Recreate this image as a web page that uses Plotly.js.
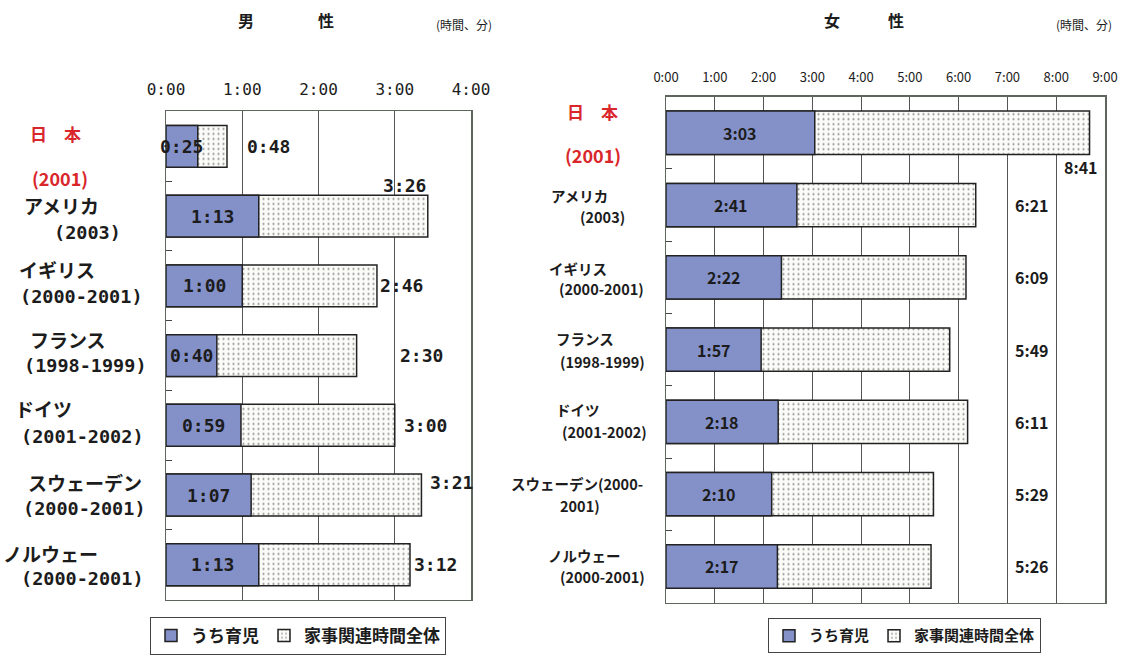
<!DOCTYPE html>
<html><head><meta charset="utf-8">
<script src="https://cdn.plot.ly/plotly-3.0.1.min.js"></script>
<style>html,body{margin:0;padding:0;background:#fff}#chart{width:1129px;height:655px}</style>
</head><body><div id="chart"></div>
<script>
// ---- data (minutes) ----
const categories = ['日本','アメリカ','イギリス','フランス','ドイツ','スウェーデン','ノルウェー'];
const maleChildcare = [25, 73, 60, 40, 59, 67, 73];
const maleTotal     = [48, 206, 166, 150, 180, 201, 192];
const femaleChildcare = [183, 161, 142, 117, 138, 130, 137];
const femaleTotal     = [521, 381, 369, 349, 371, 329, 326];
const maleTickVals = [0, 60, 120, 180, 240];
const maleTickText = ['0:00','1:00','2:00','3:00','4:00'];
const femaleTickVals = [0, 60, 120, 180, 240, 300, 360, 420, 480, 540];
const femaleTickText = ['0:00','1:00','2:00','3:00','4:00','5:00','6:00','7:00','8:00','9:00'];
const maleNameLine = ['日　本','アメリカ','イギリス','フランス','ドイツ','スウェーデン','ノルウェー'];
const maleYearLine = ['(2001)','(2003)','(2000-2001)','(1998-1999)','(2001-2002)','(2000-2001)','(2000-2001)'];
const femaleNameLine = ['日　本','アメリカ','イギリス','フランス','ドイツ','スウェーデン(2000-','ノルウェー'];
const femaleYearLine = ['(2001)','(2003)','(2000-2001)','(1998-1999)','(2001-2002)','2001)','(2000-2001)'];
const seriesNames = ['うち育児', '家事関連時間全体'];

// ---- styling helpers ----
const W = 1129, H = 655;
const px = x => x / W, py = y => 1 - y / H;
function fmt(m){ const h = Math.floor(m/60), mm = m % 60; return h + ':' + (mm < 10 ? '0' : '') + mm; }
const BLUE = '#8491c9', DOT_BG = '#fbfbf8', INK = '#1c1c1c', RED = '#d9262b', FRAME = '#5e665e';
const MONO = '"DejaVu Sans Mono", "Noto Sans CJK JP", monospace';
const CJK = '"Noto Sans CJK JP", sans-serif';

function totalTrace(vals, xa, ya, lg, w){
  return {type:'bar', orientation:'h', y:categories, x:vals, xaxis:xa, yaxis:ya, width:w,
    name:seriesNames[1], legend:lg, legendrank:2, hoverinfo:'skip',
    marker:{color:DOT_BG, pattern:{shape:'.', fgcolor:'#8a8a8a', bgcolor:DOT_BG, size:5, solidity:0.14},
      line:{color:'#222', width:1.5}}};
}
function childTrace(vals, xa, ya, lg, w){
  return {type:'bar', orientation:'h', y:categories, x:vals, xaxis:xa, yaxis:ya, width:w,
    name:seriesNames[0], legend:lg, legendrank:1, hoverinfo:'skip',
    marker:{color:BLUE, line:{color:'#222', width:1.5}}};
}
const data = [
  totalTrace(maleTotal, 'x', 'y', 'legend', 0.6),
  childTrace(maleChildcare, 'x', 'y', 'legend', 0.6),
  totalTrace(femaleTotal, 'x2', 'y2', 'legend2', 0.6),
  childTrace(femaleChildcare, 'x2', 'y2', 'legend2', 0.6)
];

const ann = [];
function pAnn(x, y, text, font){
  return {xref:'paper', yref:'paper', x:px(x), y:py(y), xanchor:'center', yanchor:'middle', text:text, showarrow:false, font:font};
}
// titles
ann.push(pAnn(286, 20, '<b>男　　　　性</b>', {family:CJK, size:16, color:INK}));
ann.push(pAnn(464, 25, '(時間、分)', {family:CJK, size:12, color:INK}));
ann.push(pAnn(864, 20, '<b>女　　　性</b>', {family:CJK, size:16, color:INK}));
ann.push(pAnn(1084, 25, '(時間、分)', {family:CJK, size:12, color:INK}));

// category labels (line positions in pixels)
const maleNamePos = [[55,135],[61,208],[57,273],[68,344],[43,414],[85,489],[51,561]];
const maleYearPos = [[60,180],[87,236],[81,301],[85,371],[82,443],[84,516],[82,587]];
const femNamePos = [[592,113],[579,198],[578,272],[585,343],[578,415],[577,490],[584,563]];
const femYearPos = [[593,157],[602,220],[601,293],[602,367],[604,438],[580,513],[602,585]];
categories.forEach((c, i) => {
  const col = i === 0 ? RED : INK;
  ann.push(pAnn(maleNamePos[i][0], maleNamePos[i][1], '<b>'+maleNameLine[i]+'</b>', {family:CJK, size:i===0?17:19, color:col}));
  ann.push(pAnn(maleYearPos[i][0], maleYearPos[i][1], '<b>'+maleYearLine[i]+'</b>', {family:i===0?CJK:MONO, size:i===0?18:18.5, color:col}));
  ann.push(pAnn(femNamePos[i][0], femNamePos[i][1], '<b>'+femaleNameLine[i]+'</b>', {family:CJK, size:i===0?17:14.5, color:col}));
  ann.push(pAnn(femYearPos[i][0], femYearPos[i][1], '<b>'+femaleYearLine[i]+'</b>', {family:CJK, size:i===0?18:14.5, color:col}));
});

// value labels
const maleTotalStyle = [[18,0,'left'],[0,31,'right'],[1,0,'left'],[41,0,'left'],[7,0,'left'],[7,13,'left'],[2,0,'left']];
categories.forEach((c, i) => {
  ann.push({xref:'x', yref:'y', x:maleChildcare[i]/2, y:c, xanchor:'center', yanchor:'middle', text:'<b>'+fmt(maleChildcare[i])+'</b>', showarrow:false, font:{family:MONO, size:18, color:INK}});
  const s = maleTotalStyle[i];
  ann.push({xref:'x', yref:'y', x:maleTotal[i], y:c, xanchor:s[2], yanchor:'middle', xshift:s[0], yshift:s[1], text:'<b>'+fmt(maleTotal[i])+'</b>', showarrow:false, font:{family:MONO, size:18, color:INK}});
  ann.push({xref:'x2', yref:'y2', x:femaleChildcare[i]/2, y:c, xanchor:'center', yanchor:'middle', text:'<b>'+fmt(femaleChildcare[i])+'</b>', showarrow:false, font:{family:CJK, size:16, color:INK}});
  if (i === 0) {
    ann.push({xref:'x2', yref:'y2', x:femaleTotal[i], y:c, xanchor:'right', yanchor:'middle', xshift:10, yshift:-34, text:'<b>'+fmt(femaleTotal[i])+'</b>', showarrow:false, font:{family:CJK, size:16, color:INK}});
  } else {
    ann.push({xref:'x2', yref:'y2', x:450, y:c, xanchor:'center', yanchor:'middle', text:'<b>'+fmt(femaleTotal[i])+'</b>', showarrow:false, font:{family:CJK, size:16, color:INK}});
  }
});

const axisCommon = {showgrid:true, gridcolor:'#555', gridwidth:1, showline:true, mirror:true, linecolor:FRAME, linewidth:1.5, zeroline:false, ticks:'', fixedrange:true};
const yCommon = {type:'category', categoryorder:'array', categoryarray:categories, range:[6.5,-0.5],
  showticklabels:false, showgrid:false, showline:true, mirror:true, linecolor:FRAME, linewidth:1.5, zeroline:false,
  ticks:'inside', tickson:'boundaries', ticklen:6, tickwidth:1, tickcolor:'#444', fixedrange:true};
const layout = {
  width:W, height:H, margin:{l:0, r:0, t:0, b:0},
  paper_bgcolor:'#ffffff', plot_bgcolor:'rgba(0,0,0,0)',
  barmode:'overlay', showlegend:true,
  xaxis: Object.assign({}, axisCommon, {domain:[px(166), px(471)], range:[0,240], side:'top', anchor:'y',
    tickvals:maleTickVals, ticktext:maleTickText, tickfont:{family:MONO, size:16, color:INK}, ticklabelstandoff:9}),
  yaxis: Object.assign({}, yCommon, {domain:[py(608), py(113)], anchor:'x'}),
  xaxis2: Object.assign({}, axisCommon, {domain:[px(666), px(1105)], range:[0,540], side:'top', anchor:'y2',
    tickvals:femaleTickVals, ticktext:femaleTickText, tickfont:{family:CJK, size:13, color:INK}, ticklabelstandoff:8}),
  yaxis2: Object.assign({}, yCommon, {domain:[py(611), py(98)], anchor:'x2'}),
  legend: {x:px(150), y:py(626), xanchor:'left', yanchor:'top', orientation:'h', bordercolor:'#444', borderwidth:1,
    bgcolor:'rgba(255,255,255,0)', font:{family:CJK, size:17, color:INK, weight:'bold'}, itemwidth:30, traceorder:'normal'},
  legend2: {x:px(768), y:py(627), xanchor:'left', yanchor:'top', orientation:'h', bordercolor:'#444', borderwidth:1,
    bgcolor:'rgba(255,255,255,0)', font:{family:CJK, size:15, color:INK, weight:'bold'}, itemwidth:30, traceorder:'normal'},
  annotations: ann
};
Plotly.newPlot('chart', data, layout, {displayModeBar:false, staticPlot:true});
</script>
</body></html>
